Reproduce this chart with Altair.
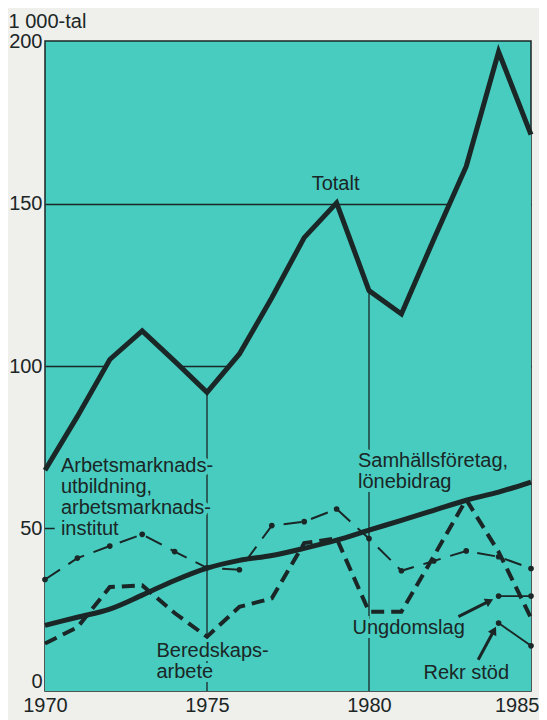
import altair as alt
import pandas as pd

# ---------------- data ----------------
YEARS = list(range(1970, 1986))
TOTALT = [67.9, 84.5, 102.0, 110.8, 101.5, 91.9, 103.7, 121.0, 139.5, 150.2,
          123.2, 116.0, 139.0, 161.4, 196.7, 171.2]
ARBETSMARKNAD = [34.3, 40.9, 44.6, 48.2, 42.9, 37.9, 37.3, 50.9, 52.1, 56.0,
                 46.9, 37.0, 40.0, 43.1, 41.3, 37.7]
SAMHALLSFORETAG = [20.2, 22.7, 25.2, 29.5, 34.0, 37.8, 40.2, 41.7, 43.9, 46.4,
                   49.5, 52.5, 55.6, 58.7, 61.2, 64.3]
BEREDSKAP = [14.6, 19.6, 32.0, 32.5, 24.0, 16.7, 25.9, 28.5, 45.5, 47.0,
             24.4, 24.4, 41.5, 58.9, 42.8, 22.5]
SHORT_YEARS = [1984, 1985]
UNGDOMSLAG = [29.2, 29.2]
REKR_STOD = [20.9, 13.9]

Y_TICKS = [0, 50, 100, 150, 200]
X_TICKS = [1970, 1975, 1980, 1985]
MARKED_YEARS = [1975, 1980]

# ---------------- annotations ----------------
LABELS = [
    {"year": 1978.23, "v": 154.1, "text": "Totalt"},
    {"year": 1970.49, "v": 67.3, "text": "Arbetsmarknads-\nutbildning,\narbetsmarknads-\ninstitut"},
    {"year": 1979.66, "v": 68.8, "text": "Samhällsföretag,\nlönebidrag"},
    {"year": 1973.44, "v": 10.6, "text": "Beredskaps-\narbete"},
    {"year": 1979.49, "v": 17.6, "text": "Ungdomslag"},
    {"year": 1981.68, "v": 3.8, "text": "Rekr stöd"},
]
ARROWS = [
    {"year": 1982.76, "v": 22.9, "year2": 1983.68, "v2": 27.5, "ang": 63},
    {"year": 1983.37, "v": 9.6, "year2": 1983.84, "v2": 18.3, "ang": 28},
]

TEAL = "#47CCBF"
INK = "#1B2626"
FONT = "Liberation Sans"

df_tot = pd.DataFrame({"year": YEARS, "v": TOTALT})
df_arb = pd.DataFrame({"year": YEARS, "v": ARBETSMARKNAD})
df_sam = pd.DataFrame({"year": YEARS, "v": SAMHALLSFORETAG})
df_ber = pd.DataFrame({"year": YEARS, "v": BEREDSKAP})
df_ung = pd.DataFrame({"year": SHORT_YEARS, "v": UNGDOMSLAG})
df_rek = pd.DataFrame({"year": SHORT_YEARS, "v": REKR_STOD})
tot_lookup = dict(zip(YEARS, TOTALT))
df_vr = pd.DataFrame({"year": MARKED_YEARS, "v": [0, 0],
                      "v2": [tot_lookup[y] for y in MARKED_YEARS]})
df_lab = pd.DataFrame(LABELS)
df_arr = pd.DataFrame(ARROWS)
df_tick = pd.DataFrame({"year": [1970], "year2": [1970.3], "v": [50]})

X = alt.X(
    "year:Q",
    scale=alt.Scale(domain=[1970, 1985], nice=False, zero=False),
    axis=alt.Axis(
        values=X_TICKS, format="d", ticks=False, domain=False, grid=False,
        labelFontSize=20, labelFont=FONT, labelColor=INK, labelPadding=4,
        labelAlign=alt.condition("datum.value == 1985", alt.value("right"), alt.value("center")),
        labelOffset=alt.condition("datum.value == 1985", alt.value(8), alt.value(0)),
        title=None,
    ),
)
Y = alt.Y(
    "v:Q",
    scale=alt.Scale(domain=[0, 200], nice=False),
    axis=alt.Axis(
        values=Y_TICKS, ticks=False, domain=False, grid=True,
        gridColor=INK, gridWidth=1.3,
        gridOpacity=alt.condition("datum.value == 100 || datum.value == 150",
                                  alt.value(1), alt.value(0)),
        labelFontSize=20, labelFont=FONT, labelColor=INK, labelPadding=3,
        labelBaseline=alt.condition("datum.value == 0", alt.value("bottom"), alt.value("middle")),
        title="1 000-tal", titleAngle=0, titleAlign="left", titleBaseline="alphabetic",
        titleX=-37, titleY=-14, titleFontSize=20, titleFontWeight="normal",
        titleFont=FONT, titleColor=INK,
    ),
)

cover = alt.Chart(df_tot).mark_area(color=TEAL, opacity=1).encode(x=X, y=Y, y2=alt.datum(0))
vrules = alt.Chart(df_vr).mark_rule(color=INK, strokeWidth=1.3).encode(x=X, y=Y, y2="v2:Q")
tick50 = alt.Chart(df_tick).mark_rule(color=INK, strokeWidth=1.5).encode(x=X, x2="year2:Q", y=Y)

halo = alt.Chart(df_lab).mark_text(
    align="left", baseline="alphabetic", lineBreak="\n", lineHeight=21,
    font=FONT, fontSize=20, fill=TEAL, stroke=TEAL, strokeWidth=8,
).encode(x=X, y=Y, text="text:N")

arb_line = alt.Chart(df_arb).mark_line(color=INK, strokeWidth=2, strokeDash=[18, 10]).encode(x=X, y=Y)
arb_pts = alt.Chart(df_arb).mark_circle(color=INK, size=32, opacity=1).encode(x=X, y=Y)
sam_line = alt.Chart(df_sam).mark_line(color=INK, strokeWidth=5, interpolate="monotone").encode(x=X, y=Y)
ber_line = alt.Chart(df_ber).mark_line(color=INK, strokeWidth=4, strokeDash=[13, 7]).encode(x=X, y=Y)
ung_line = alt.Chart(df_ung).mark_line(color=INK, strokeWidth=1.8).encode(x=X, y=Y)
ung_pts = alt.Chart(df_ung).mark_circle(color=INK, size=32, opacity=1).encode(x=X, y=Y)
rek_line = alt.Chart(df_rek).mark_line(color=INK, strokeWidth=1.8).encode(x=X, y=Y)
rek_pts = alt.Chart(df_rek).mark_circle(color=INK, size=32, opacity=1).encode(x=X, y=Y)
tot_line = alt.Chart(df_tot).mark_line(color=INK, strokeWidth=5, strokeJoin="miter").encode(x=X, y=Y)

arr_shaft = alt.Chart(df_arr).mark_rule(color=INK, strokeWidth=3).encode(
    x=X, y=Y, x2="year2:Q", y2="v2:Q")
arr_head = alt.Chart(df_arr).mark_point(
    shape="triangle", filled=True, color=INK, size=90, opacity=1
).encode(
    x=alt.X("year2:Q", scale=alt.Scale(domain=[1970, 1985], nice=False, zero=False)),
    y=alt.Y("v2:Q", scale=alt.Scale(domain=[0, 200], nice=False)),
    angle=alt.Angle("ang:Q", scale=None),
)

texts = alt.Chart(df_lab).mark_text(
    align="left", baseline="alphabetic", lineBreak="\n", lineHeight=21,
    font=FONT, fontSize=20, color=INK,
).encode(x=X, y=Y, text="text:N")

chart = alt.layer(
    cover, vrules, tick50, halo,
    arb_line, arb_pts, sam_line, ber_line,
    ung_line, ung_pts, rek_line, rek_pts, tot_line,
    arr_shaft, arr_head, texts,
).properties(
    width=486, height=650,
    padding={"left": 37, "top": 33, "right": 8, "bottom": 29},
    autosize=alt.AutoSizeParams(type="none"),
    background="#EFEFEB",
).configure_view(
    fill=TEAL, stroke=INK, strokeWidth=1.5,
)

chart.save("out.html", embed_options={"renderer": "svg", "actions": False})
